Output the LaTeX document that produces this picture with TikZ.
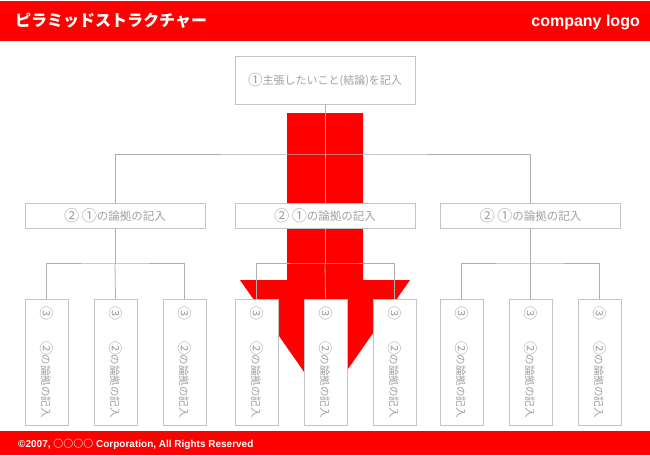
\documentclass[tikz,border=0pt]{standalone}
\usepackage{fontspec}
\setmainfont{Liberation Sans}
\newfontfamily\jp{Noto Sans CJK JP}
\definecolor{brandred}{RGB}{255,0,0}
\definecolor{boxline}{RGB}{195,195,195}
\definecolor{conline}{RGB}{175,175,175}
\definecolor{txtgray}{RGB}{160,160,160}
\newcommand\cn[1]{\raisebox{-0.06em}{\fontsize{1.32em}{1.32em}\selectfont #1}}
\tikzset{
  topbox/.style={draw=boxline, line width=0.9pt, fill=white, minimum width=180pt, minimum height=48pt, inner sep=0pt, text=txtgray, font=\jp\fontsize{11}{12}\selectfont},
  midbox/.style={draw=boxline, line width=0.9pt, fill=white, minimum width=180pt, minimum height=25pt, inner sep=0pt, text=txtgray, font=\jp\fontsize{11.5}{13}\selectfont},
  leafbox/.style={draw=boxline, line width=0.9pt, fill=white, minimum width=43pt, minimum height=126pt, inner sep=0pt},
  leaftext/.style={rotate=-90, text=txtgray, inner sep=0pt, font=\jp\fontsize{10.5}{12}\selectfont},
  conn/.style={draw=conline, line width=0.8pt},
  bartext/.style={text=white, inner sep=0pt, font=\bfseries}
}
\begin{document}
\begin{tikzpicture}[x=1pt,y=-1pt]
\useasboundingbox (0,0) rectangle (650,455);
% header and footer bars
\fill[brandred] (0,1) rectangle (650,41);
\fill[brandred] (0,431) rectangle (650,455);
\node[bartext, anchor=west, font=\jp\bfseries\fontsize{16}{18}\selectfont] (title) at (15,21) {ピラミッドストラクチャー};
\node[bartext, anchor=east, font=\bfseries\fontsize{16}{18}\selectfont] (logo) at (640,22) {company logo};
\node[bartext, anchor=west, font=\bfseries\fontsize{10}{12}\selectfont] (copy) at (18,444) {©2007, {\jp ○○○○} Corporation, All Rights Reserved};
% big arrow
\fill[brandred] (287,113) -- (363,113) -- (363,280) -- (410,280) -- (325,402) -- (240,280) -- (287,280) -- cycle;
% coordinates
\coordinate (bus0) at (325,154);
\coordinate (busA) at (115,263);
\coordinate (busB) at (325,263);
\coordinate (busC) at (530.5,263);
% box outlines (named)
\node[topbox] (top) at (325,80) {};
\node[midbox] (ma) at (115,215.5) {};
\node[midbox] (mb) at (325,215.5) {};
\node[midbox] (mc) at (530.5,215.5) {};
\foreach \nm/\xx in {a1/46.5, a2/115.5, a3/184.5, b1/256.5, b2/325.5, b3/394.5, c1/461.5, c2/530.5, c3/599.5}{
  \node[leafbox] (l\nm) at (\xx,362) {};
}
% connectors
\draw[conn] (top.south) -- (bus0);
\draw[conn] (ma.north) |- (bus0) -| (mc.north);
\draw[conn] (bus0) -- (mb.north);
\draw[conn] (ma.south) -- (busA);
\draw[conn] (la1.north) |- (busA) -| (la3.north);
\draw[conn] (busA) -- (la2.north);
\draw[conn] (mb.south) -- (busB);
\draw[conn] (lb1.north) |- (busB) -| (lb3.north);
\draw[conn] (busB) -- (lb2.north);
\draw[conn] (mc.south) -- (busC);
\draw[conn] (lc1.north) |- (busC) -| (lc3.north);
\draw[conn] (busC) -- (lc2.north);
% boxes with text on top of connectors
\node[topbox] (topt) at (top.center) {\cn{①}主張したいこと(結論)を記入};
\node[midbox] (mat) at (ma.center) {\cn{②} \cn{①}の論拠の記入};
\node[midbox] (mbt) at (mb.center) {\cn{②} \cn{①}の論拠の記入};
\node[midbox] (mct) at (mc.center) {\cn{②} \cn{①}の論拠の記入};
\foreach \nm in {a1,a2,a3,b1,b2,b3,c1,c2,c3}{
  \node[leaftext] (t\nm) at (l\nm.center) {\cn{③}　　\cn{②}の論拠の記入};
}
\end{tikzpicture}
\end{document}
